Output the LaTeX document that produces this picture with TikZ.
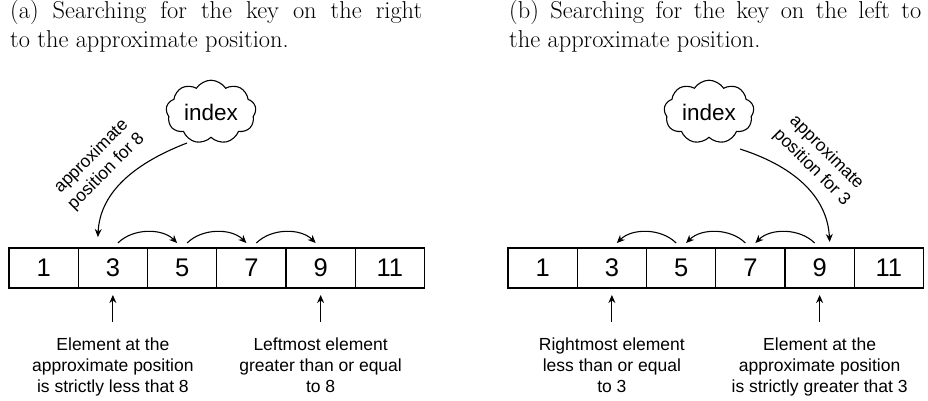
\documentclass[tikz,border=0pt]{standalone}
\usepackage{fontspec}
\setsansfont{Liberation Sans}
\usetikzlibrary{shapes.symbols,arrows.meta,calc}
\begin{document}
\begin{tikzpicture}[x=1pt,y=-1pt,
  cell/.style={minimum width=69.25pt, minimum height=40pt, inner sep=0pt, outer sep=0pt,
    font=\sffamily\fontsize{25.5}{30}\selectfont},
  border/.style={line width=1.1pt},
  cloudy/.style={cloud, cloud puffs=9, cloud puff arc=115, aspect=1.45, draw, line width=1.1pt,
    minimum width=90pt, minimum height=62pt, inner sep=0pt, font=\sffamily\fontsize{22.5}{27}\selectfont},
  lab/.style={align=center, inner sep=0pt, font=\sffamily\fontsize{17.5}{21}\selectfont},
  titletext/.style={inner sep=0pt, font=\rmfamily\fontsize{24.4}{29.3}\selectfont, anchor=base west},
  arr/.style={-{Stealth[length=8pt,width=7pt]}, line width=1.1pt}
]
\useasboundingbox (0,0) rectangle (928,400);

% titles
\node[titletext] (ta1) at (10,18.3) {\makebox[412pt][s]{(a) Searching for the key on the right}};
\node[titletext] (ta2) at (10,47.7) {to the approximate position.};
\node[titletext] (tb1) at (509,18.3) {\makebox[412pt][s]{(b) Searching for the key on the left to}};
\node[titletext] (tb2) at (509,47.7) {the approximate position.};

% left array
\node[cell] (a1) at (43.625,268) {1};
\node[cell] (a2) at (112.875,268) {3};
\node[cell] (a3) at (182.125,268) {5};
\node[cell] (a4) at (251.375,268) {7};
\node[cell] (a5) at (320.625,268) {9};
\node[cell] (a6) at (389.875,268) {11};
\draw[border] (a1.north west) rectangle (a6.south east);
\foreach \c in {a1,a2,a3,a4,a5} \draw[border] (\c.north east) -- (\c.south east);

% right array
\node[cell] (b1) at (542.625,268) {1};
\node[cell] (b2) at (611.875,268) {3};
\node[cell] (b3) at (681.125,268) {5};
\node[cell] (b4) at (750.375,268) {7};
\node[cell] (b5) at (819.625,268) {9};
\node[cell] (b6) at (888.875,268) {11};
\draw[border] (b1.north west) rectangle (b6.south east);
\foreach \c in {b1,b2,b3,b4,b5} \draw[border] (\c.north east) -- (\c.south east);

% clouds
\node[cloudy] (cl) at (211,112) {index};
\node[cloudy] (cr) at (709,112) {index};

% rotated labels
\node[lab, rotate=45] (ll) at (99,164) {approximate\\position for 8};
\node[lab, rotate=-45] (lr) at (819,160) {approximate\\position for 3};

% main curved arrows
\draw[arr] ($(cl.center)+(-24,31)$) .. controls +(-57,22) and +(2,-42) .. ($(a2.north)+(-15,-11)$);
\draw[arr] ($(cr.center)+(31,37)$) .. controls +(59,19) and +(-2,-42) .. ($(b5.north)+(10,-6)$);

% small arcs left (to the right)
\draw[arr] ($(a2.north)+(5,-5)$) .. controls +(15,-15) and +(-15,-15) .. ($(a3.north)+(-5,-5)$);
\draw[arr] ($(a3.north)+(5,-5)$) .. controls +(15,-15) and +(-15,-15) .. ($(a4.north)+(-5,-5)$);
\draw[arr] ($(a4.north)+(5,-5)$) .. controls +(15,-15) and +(-15,-15) .. ($(a5.north)+(-5,-5)$);

% small arcs right (to the left)
\draw[arr] ($(b3.north)+(-5,-5)$) .. controls +(-15,-15) and +(15,-15) .. ($(b2.north)+(5,-5)$);
\draw[arr] ($(b4.north)+(-5,-5)$) .. controls +(-15,-15) and +(15,-15) .. ($(b3.north)+(5,-5)$);
\draw[arr] ($(b5.north)+(-5,-5)$) .. controls +(-15,-15) and +(15,-15) .. ($(b4.north)+(5,-5)$);

% bottom labels
\node[lab, anchor=north] (la) at (112.875,337.2) {Element at the\\approximate position\\is strictly less that 8};
\node[lab, anchor=north] (lb) at (320.625,337.2) {Leftmost element\\greater than or equal\\to 8};
\node[lab, anchor=north] (lc) at (611.875,337.2) {Rightmost element\\less than or equal\\to 3};
\node[lab, anchor=north] (ld) at (819.625,337.2) {Element at the\\approximate position\\is strictly greater that 3};

\draw[arr] ($(la.north)+(0,-15)$) -- ($(a2.south)+(0,7)$);
\draw[arr] ($(lb.north)+(0,-15)$) -- ($(a5.south)+(0,7)$);
\draw[arr] ($(lc.north)+(0,-15)$) -- ($(b2.south)+(0,7)$);
\draw[arr] ($(ld.north)+(0,-15)$) -- ($(b5.south)+(0,7)$);
\end{tikzpicture}
\end{document}
